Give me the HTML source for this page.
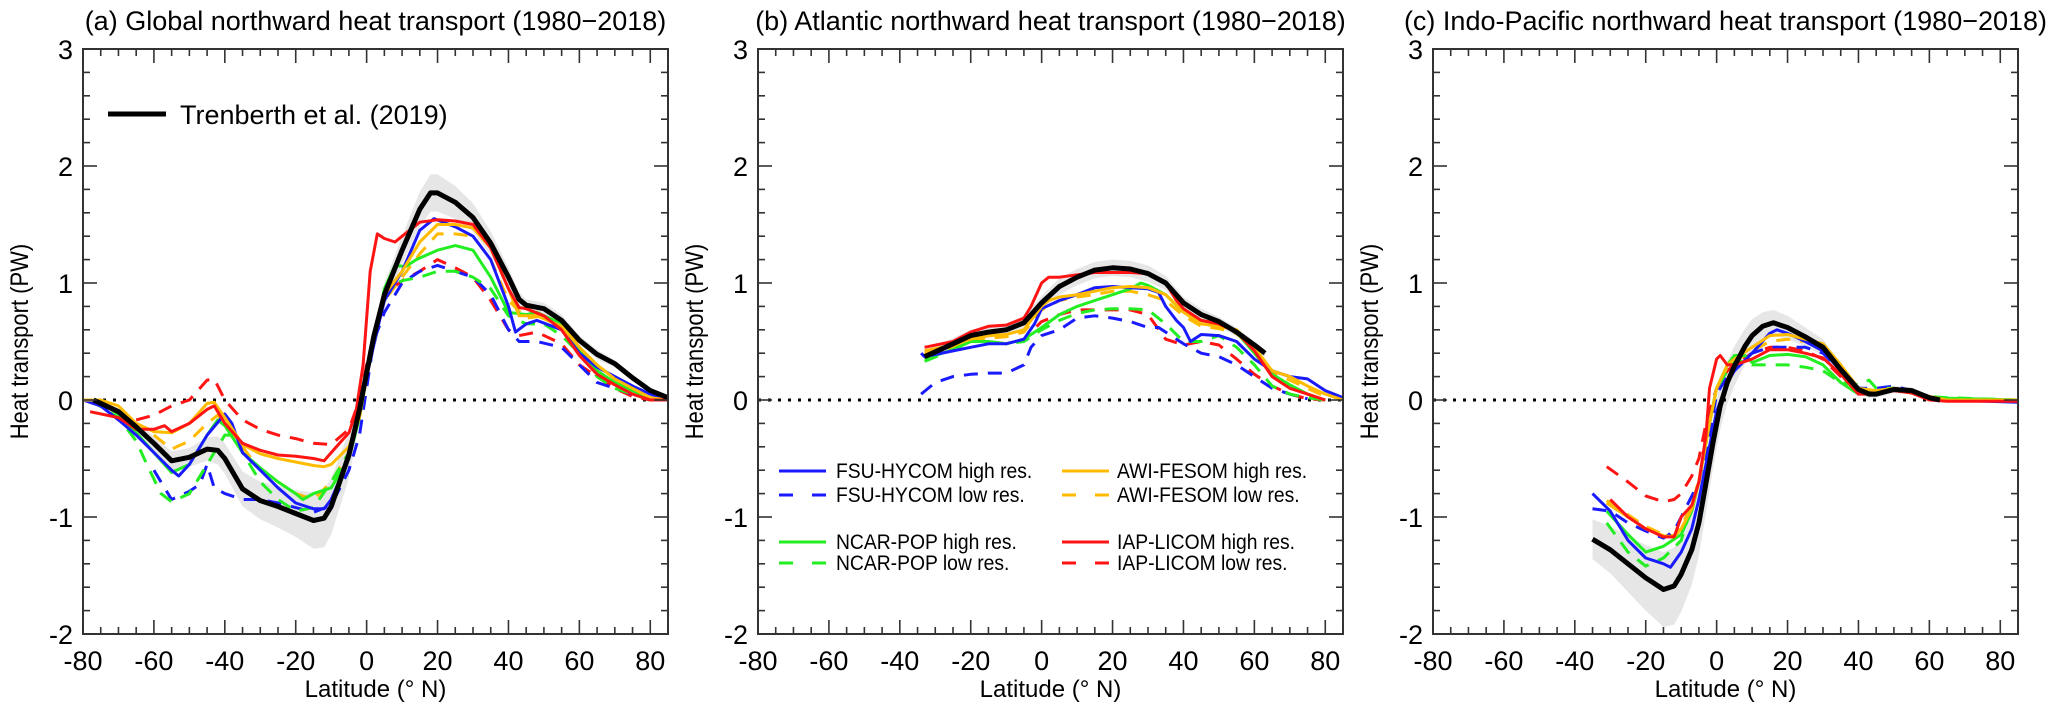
<!DOCTYPE html>
<html><head><meta charset="utf-8">
<style>
html,body{margin:0;padding:0;background:#fff;}
svg{display:block;font-family:"Liberation Sans",Arial,sans-serif;}
</style></head>
<body>
<svg id="fig" width="2067" height="713" viewBox="0 0 2067 713" xmlns="http://www.w3.org/2000/svg"></svg>
<script>
// ---------- data ----------
const xTicks = [-80,-60,-40,-20,0,20,40,60,80];
const yTicks = [-2,-1,0,1,2,3];
const panelTitles = ["(a) Global northward heat transport (1980\u22122018)","(b) Atlantic northward heat transport (1980\u22122018)","(c) Indo-Pacific northward heat transport (1980\u22122018)"];

// Panel a (Global)
const aObsLat = [-77,-70,-65,-60,-55,-50,-45,-42,-40,-35,-30,-25,-20,-15,-12,-10,-5,-2,0,2,5,10,15,18,20,25,30,35,40,43,45,50,55,60,65,70,75,80,85];
const aObsVal = [0,-0.1,-0.23,-0.37,-0.52,-0.49,-0.42,-0.43,-0.5,-0.76,-0.86,-0.91,-0.97,-1.03,-1.01,-0.91,-0.47,-0.08,0.23,0.54,0.9,1.28,1.63,1.77,1.77,1.69,1.56,1.34,1.05,0.86,0.81,0.78,0.68,0.51,0.39,0.31,0.19,0.08,0.02];
const aObsErr = [0.02,0.03,0.05,0.06,0.08,0.08,0.1,0.12,0.13,0.15,0.16,0.18,0.2,0.24,0.25,0.24,0.2,0.1,0.08,0.08,0.1,0.12,0.15,0.16,0.16,0.14,0.12,0.1,0.08,0.06,0.05,0.05,0.05,0.04,0.04,0.03,0.03,0.02,0.02];

const aRedHiLat = [-78,-70,-65,-60,-57,-55,-50,-45,-43,-40,-35,-30,-25,-20,-15,-12,-10,-5,-3,-1,1,3,5,8,10,15,20,25,30,35,40,43,45,50,55,60,65,70,75,80,85];
const aRedHiVal = [-0.1,-0.15,-0.25,-0.25,-0.22,-0.27,-0.2,-0.08,-0.05,-0.2,-0.37,-0.43,-0.47,-0.48,-0.5,-0.52,-0.45,-0.28,-0.1,0.3,1.1,1.42,1.38,1.35,1.4,1.52,1.54,1.53,1.5,1.3,0.95,0.79,0.78,0.72,0.6,0.38,0.22,0.13,0.05,0,0];
const aRedLoLat = [-65,-60,-55,-50,-45,-43,-40,-35,-30,-25,-20,-15,-10,-5,-2,0,2,5,10,15,20,25,30,35,40,43,48,55,60,65,70,75,80];
const aRedLoVal = [-0.17,-0.13,-0.05,0,0.17,0.18,0,-0.17,-0.25,-0.3,-0.33,-0.37,-0.38,-0.25,0,0.3,0.55,0.9,1.02,1.1,1.2,1.13,1.05,0.85,0.6,0.55,0.58,0.48,0.3,0.2,0.1,0.03,0];
const aOrgHiLat = [-80,-75,-70,-65,-60,-55,-50,-45,-43,-40,-35,-30,-25,-20,-15,-12,-10,-5,-2,0,2,5,10,15,20,25,30,35,40,43,48,55,60,65,70,75,80,85];
const aOrgHiVal = [0,0,-0.05,-0.2,-0.27,-0.28,-0.2,-0.03,-0.02,-0.15,-0.38,-0.46,-0.5,-0.53,-0.56,-0.57,-0.55,-0.4,-0.15,0.2,0.55,0.9,1.1,1.35,1.5,1.5,1.47,1.3,0.95,0.72,0.72,0.63,0.45,0.3,0.18,0.1,0.02,0];
const aOrgLoLat = [-60,-55,-50,-45,-42,-40,-35,-30,-25,-20,-15,-10,-5,0,5,10,15,20,25,30,35,40,45,50,55,60,65,70,75,80];
const aOrgLoVal = [-0.3,-0.42,-0.35,-0.2,-0.13,-0.2,-0.4,-0.6,-0.7,-0.8,-0.85,-0.7,-0.45,0.2,0.85,1.05,1.25,1.42,1.42,1.4,1.2,0.85,0.7,0.72,0.65,0.45,0.3,0.18,0.08,0];
const aBluHiLat = [-80,-75,-70,-65,-60,-55,-53,-50,-45,-40,-38,-35,-30,-25,-20,-15,-12,-10,-5,-2,0,3,5,10,15,19,25,30,35,40,42,45,48,55,60,65,70,75,80,85];
const aBluHiVal = [0,-0.05,-0.17,-0.3,-0.45,-0.6,-0.65,-0.55,-0.3,-0.12,-0.2,-0.45,-0.6,-0.75,-0.88,-0.93,-0.93,-0.85,-0.5,-0.1,0.2,0.6,0.85,1.1,1.45,1.55,1.48,1.4,1.2,0.8,0.58,0.65,0.68,0.6,0.4,0.28,0.2,0.12,0.05,0];
const aBluLoLat = [-60,-57,-55,-50,-47,-45,-43,-40,-35,-30,-25,-20,-15,-10,-5,-2,0,2,5,10,15,20,25,30,35,40,43,48,55,60,65,70,75,80];
const aBluLoVal = [-0.6,-0.75,-0.85,-0.78,-0.72,-0.55,-0.75,-0.8,-0.85,-0.85,-0.88,-0.92,-0.96,-0.9,-0.6,-0.3,0.1,0.5,0.75,1.0,1.1,1.15,1.1,1.05,0.9,0.6,0.5,0.5,0.45,0.3,0.15,0.1,0.05,0];
const aGrnHiLat = [-80,-75,-70,-65,-60,-55,-50,-45,-42,-40,-35,-30,-25,-20,-18,-15,-10,-5,-2,0,3,5,8,11,14,20,25,30,35,40,45,48,55,60,65,70,75,80];
const aGrnHiVal = [0,-0.02,-0.12,-0.28,-0.45,-0.62,-0.55,-0.3,-0.17,-0.22,-0.45,-0.58,-0.7,-0.8,-0.85,-0.8,-0.75,-0.5,-0.15,0.2,0.65,0.95,1.15,1.14,1.2,1.28,1.32,1.28,1.05,0.75,0.73,0.75,0.65,0.42,0.25,0.15,0.08,0];
const aGrnLoLat = [-78,-70,-65,-62,-58,-55,-50,-45,-40,-37,-35,-30,-25,-20,-15,-10,-5,-2,0,3,5,10,15,20,25,30,35,40,45,50,55,60,65,70,75,80];
const aGrnLoVal = [0,-0.15,-0.35,-0.55,-0.8,-0.87,-0.8,-0.55,-0.3,-0.3,-0.45,-0.7,-0.85,-0.95,-0.92,-0.7,-0.45,-0.15,0.2,0.6,0.95,1.02,1.05,1.1,1.1,1.05,0.95,0.72,0.65,0.65,0.55,0.4,0.2,0.1,0.05,0];

// Panel b (Atlantic)
const bObsLat = [-33,-25,-20,-15,-10,-5,0,5,10,15,20,25,30,35,40,45,50,55,60,63];
const bObsVal = [0.37,0.48,0.55,0.58,0.6,0.66,0.83,0.97,1.05,1.11,1.13,1.12,1.08,1.0,0.83,0.73,0.67,0.58,0.47,0.4];
const bObsErr = [0.05,0.05,0.05,0.05,0.05,0.06,0.06,0.07,0.07,0.07,0.07,0.07,0.07,0.06,0.05,0.05,0.04,0.04,0.03,0.03];
const bRedHiLat = [-33,-25,-20,-15,-10,-5,-3,0,2,5,10,15,20,25,30,35,38,40,45,50,55,60,65,70,75,80];
const bRedHiVal = [0.45,0.5,0.58,0.63,0.64,0.7,0.8,1.0,1.05,1.05,1.07,1.09,1.09,1.09,1.08,1.0,0.85,0.78,0.68,0.65,0.58,0.42,0.2,0.1,0.05,0];
const bRedLoLat = [-33,-25,-20,-15,-10,-5,0,5,10,15,20,25,30,35,40,45,50,55,60,65,70,75,80];
const bRedLoVal = [0.4,0.43,0.5,0.5,0.48,0.52,0.67,0.73,0.77,0.77,0.77,0.77,0.73,0.52,0.47,0.5,0.47,0.35,0.22,0.12,0.05,0.01,0];
const bOrgHiLat = [-33,-25,-20,-15,-10,-5,0,2,5,10,15,20,25,30,35,40,45,50,55,60,65,70,75,80,85];
const bOrgHiVal = [0.42,0.47,0.52,0.55,0.56,0.6,0.8,0.85,0.88,0.9,0.93,0.96,0.97,0.96,0.9,0.75,0.65,0.63,0.6,0.45,0.25,0.2,0.12,0.05,0];
const bOrgLoLat = [-33,-25,-20,-15,-10,-5,0,5,10,15,20,25,30,35,40,45,50,55,60,65,70,75,80];
const bOrgLoVal = [0.4,0.45,0.5,0.53,0.54,0.58,0.77,0.85,0.88,0.9,0.93,0.93,0.9,0.85,0.72,0.63,0.61,0.57,0.42,0.23,0.17,0.1,0.03];
const bBluHiLat = [-34,-33,-25,-20,-15,-10,-5,-2,0,5,10,15,20,25,30,33,35,38,40,42,45,50,55,60,65,70,75,80,85];
const bBluHiVal = [0.4,0.37,0.42,0.45,0.48,0.48,0.52,0.65,0.78,0.85,0.9,0.96,0.97,0.96,0.95,0.92,0.8,0.68,0.62,0.5,0.56,0.55,0.5,0.35,0.25,0.2,0.18,0.08,0.02];
const bBluLoLat = [-34,-30,-25,-20,-15,-10,-5,-3,0,5,10,15,20,25,30,33,35,40,45,50,55,60,65,70,75];
const bBluLoVal = [0.05,0.15,0.2,0.22,0.23,0.23,0.3,0.45,0.55,0.6,0.7,0.72,0.7,0.67,0.62,0.62,0.58,0.48,0.4,0.37,0.3,0.2,0.1,0.05,0.01];
const bGrnHiLat = [-33,-25,-20,-15,-10,-5,0,5,10,15,20,25,28,30,35,40,45,50,55,60,65,70,75,80];
const bGrnHiVal = [0.35,0.43,0.5,0.5,0.48,0.52,0.62,0.73,0.8,0.85,0.9,0.95,1.0,0.98,0.9,0.75,0.68,0.65,0.58,0.4,0.22,0.13,0.05,0];
const bGrnLoLat = [-33,-25,-20,-15,-10,-5,0,5,10,15,20,25,30,35,40,45,50,55,60,65,70,75,80];
const bGrnLoVal = [0.33,0.43,0.5,0.5,0.48,0.5,0.6,0.68,0.74,0.77,0.78,0.78,0.77,0.65,0.5,0.5,0.55,0.45,0.3,0.12,0.05,0.02,0];

// Panel c (Indo-Pacific)
const cObsLat = [-35,-30,-25,-20,-15,-12,-10,-7,-5,-3,-1,1,3,5,8,10,13,16,20,25,30,35,40,43,45,50,55,60,63];
const cObsVal = [-1.19,-1.28,-1.4,-1.52,-1.62,-1.59,-1.49,-1.28,-1.05,-0.71,-0.36,-0.05,0.15,0.29,0.46,0.55,0.63,0.66,0.62,0.54,0.45,0.26,0.09,0.05,0.05,0.09,0.08,0.02,0];
const cObsErr = [0.17,0.2,0.24,0.28,0.32,0.33,0.32,0.3,0.28,0.25,0.22,0.2,0.18,0.17,0.15,0.14,0.12,0.11,0.1,0.08,0.07,0.05,0.04,0.03,0.03,0.03,0.03,0.02,0.02];
const cRedHiLat = [-30,-25,-20,-15,-12,-10,-7,-5,-3,-2,0,1,3,5,10,15,20,25,30,35,40,45,50,55,60,65,85];
const cRedHiVal = [-0.85,-1.0,-1.1,-1.17,-1.17,-1.0,-0.9,-0.7,-0.3,0.1,0.35,0.38,0.3,0.3,0.35,0.43,0.43,0.4,0.36,0.22,0.05,0.05,0.08,0.06,0,-0.01,-0.01];
const cRedLoLat = [-31,-25,-20,-15,-12,-10,-7,-5,-3,0,3,5,10,15,20,25,30,35,40,45,50,55,60];
const cRedLoVal = [-0.57,-0.7,-0.82,-0.87,-0.85,-0.8,-0.65,-0.5,-0.2,0.1,0.25,0.3,0.4,0.45,0.45,0.42,0.35,0.2,0.07,0.07,0.1,0.07,0.02];
const cOrgHiLat = [-31,-25,-20,-15,-12,-10,-7,-5,-2,0,3,5,10,15,20,25,30,35,40,45,50,55,60,65,85];
const cOrgHiVal = [-0.88,-1.0,-1.1,-1.16,-1.17,-1.1,-0.93,-0.7,-0.2,0.1,0.3,0.35,0.45,0.55,0.56,0.52,0.48,0.3,0.1,0.08,0.1,0.08,0.03,0,0];
const cOrgLoLat = [-31,-25,-20,-15,-12,-10,-7,-5,-2,0,3,5,10,15,20,25,30,35,40,45,50,55,60];
const cOrgLoVal = [-0.86,-0.98,-1.08,-1.15,-1.16,-1.08,-0.9,-0.68,-0.2,0.1,0.28,0.33,0.42,0.5,0.52,0.5,0.45,0.28,0.1,0.08,0.1,0.08,0.03];
const cBluHiLat = [-35,-30,-25,-20,-15,-13,-10,-7,-5,-2,0,3,5,10,15,17,20,25,30,35,40,45,50,55,60,65,85];
const cBluHiVal = [-0.8,-0.95,-1.2,-1.35,-1.4,-1.43,-1.3,-1.1,-0.85,-0.4,-0.1,0.15,0.25,0.4,0.57,0.6,0.57,0.5,0.42,0.25,0.05,0.07,0.1,0.08,0.02,0,-0.02];
const cBluLoLat = [-35,-30,-25,-20,-15,-12,-10,-5,-2,0,5,10,15,20,25,30,35,40,45,50,55,60];
const cBluLoVal = [-0.93,-0.95,-1.05,-1.12,-1.18,-1.12,-1.0,-0.7,-0.3,0.05,0.3,0.4,0.45,0.45,0.45,0.4,0.25,0.1,0.1,0.12,0.08,0.02];
const cGrnHiLat = [-31,-25,-20,-15,-10,-7,-5,-2,0,3,5,8,10,15,20,25,30,35,40,45,50,55,60,85];
const cGrnHiVal = [-0.95,-1.15,-1.3,-1.25,-1.15,-0.95,-0.7,-0.2,0.1,0.3,0.38,0.38,0.32,0.38,0.39,0.37,0.3,0.15,0.05,0.08,0.1,0.06,0.02,0];
const cGrnLoLat = [-31,-25,-20,-15,-10,-5,-2,0,5,10,15,20,25,30,35,40,43,45,50,55,60,65,85];
const cGrnLoVal = [-1.05,-1.3,-1.42,-1.35,-1.2,-0.7,-0.2,0.1,0.35,0.3,0.3,0.3,0.28,0.25,0.15,0.13,0.17,0.1,0.1,0.06,0.03,0.02,0];

// ---------- drawing ----------
const NS = "http://www.w3.org/2000/svg";
const svg = document.getElementById("fig");
const panelLefts = [83, 758, 1433];
const PW = 585, TOP = 49, BOT = 634;
const XMIN = -80, XMAX = 85, YMIN = -2, YMAX = 3;
const COL = {blue:"#1a1aff", green:"#22ee22", red:"#ff1414", orange:"#ffbb00"};

function mk(tag, attrs, parent){
  const e = document.createElementNS(NS, tag);
  for (const k in attrs) e.setAttribute(k, attrs[k]);
  (parent||svg).appendChild(e);
  return e;
}
function xs(left){ return v => left + (v - XMIN) / (XMAX - XMIN) * PW; }
function ys(v){ return BOT - (v - YMIN) / (YMAX - YMIN) * (BOT - TOP); }

function drawLine(g, sx, lats, vals, color, dashed, name, w){
  const pts = lats.map((la,i)=> sx(la).toFixed(1)+","+ys(vals[i]).toFixed(1)).join(" ");
  const p = mk("polyline", {points:pts, fill:"none", stroke:color, "stroke-width":w||3, "stroke-linejoin":"round", "stroke-linecap":"butt"}, g);
  if (dashed) p.setAttribute("stroke-dasharray","14 10");
  
  
}
function drawBand(g, sx, lats, vals, errs, name){
  const up = lats.map((la,i)=> sx(la).toFixed(1)+","+ys(vals[i]+errs[i]).toFixed(1));
  const dn = lats.map((la,i)=> sx(la).toFixed(1)+","+ys(vals[i]-errs[i]).toFixed(1)).reverse();
  const p = mk("polygon", {points:up.concat(dn).join(" "), fill:"#e6e6e6", stroke:"none"}, g);
  
  
}

const panels = [
  {key:"global", obs:[aObsLat,aObsVal,aObsErr], series:[
    [aRedLoLat,aRedLoVal,COL.red,true,"iap-licom-low"],[aOrgLoLat,aOrgLoVal,COL.orange,true,"awi-fesom-low"],
    [aBluLoLat,aBluLoVal,COL.blue,true,"fsu-hycom-low"],[aGrnLoLat,aGrnLoVal,COL.green,true,"ncar-pop-low"],
    [aGrnHiLat,aGrnHiVal,COL.green,false,"ncar-pop-high"],[aBluHiLat,aBluHiVal,COL.blue,false,"fsu-hycom-high"],
    [aOrgHiLat,aOrgHiVal,COL.orange,false,"awi-fesom-high"],[aRedHiLat,aRedHiVal,COL.red,false,"iap-licom-high"]]},
  {key:"atlantic", obs:[bObsLat,bObsVal,bObsErr], series:[
    [bRedLoLat,bRedLoVal,COL.red,true,"iap-licom-low"],[bOrgLoLat,bOrgLoVal,COL.orange,true,"awi-fesom-low"],
    [bBluLoLat,bBluLoVal,COL.blue,true,"fsu-hycom-low"],[bGrnLoLat,bGrnLoVal,COL.green,true,"ncar-pop-low"],
    [bGrnHiLat,bGrnHiVal,COL.green,false,"ncar-pop-high"],[bBluHiLat,bBluHiVal,COL.blue,false,"fsu-hycom-high"],
    [bOrgHiLat,bOrgHiVal,COL.orange,false,"awi-fesom-high"],[bRedHiLat,bRedHiVal,COL.red,false,"iap-licom-high"]]},
  {key:"indo-pacific", obs:[cObsLat,cObsVal,cObsErr], series:[
    [cRedLoLat,cRedLoVal,COL.red,true,"iap-licom-low"],[cOrgLoLat,cOrgLoVal,COL.orange,true,"awi-fesom-low"],
    [cBluLoLat,cBluLoVal,COL.blue,true,"fsu-hycom-low"],[cGrnLoLat,cGrnLoVal,COL.green,true,"ncar-pop-low"],
    [cGrnHiLat,cGrnHiVal,COL.green,false,"ncar-pop-high"],[cBluHiLat,cBluHiVal,COL.blue,false,"fsu-hycom-high"],
    [cOrgHiLat,cOrgHiVal,COL.orange,false,"awi-fesom-high"],[cRedHiLat,cRedHiVal,COL.red,false,"iap-licom-high"]]}
];

panels.forEach((pn, pi) => {
  const L = panelLefts[pi], R = L + PW, sx = xs(L);
  const g = mk("g", {});
  
  

  const t = mk("text", {x:(L+R)/2, y:30, "text-anchor":"middle", "font-size":27, fill:"#000"}, g);
  t.textContent = panelTitles[pi];
  
  

  drawBand(g, sx, pn.obs[0], pn.obs[1], pn.obs[2], 'obs-uncertainty-band');

  const z = mk("line", {x1:L, x2:R, y1:ys(0), y2:ys(0), stroke:"#000", "stroke-width":3, "stroke-dasharray":"3 7"}, g);
  
  

  pn.series.forEach(s => drawLine(g, sx, s[0], s[1], s[2], s[3], s[4]));
  drawLine(g, sx, pn.obs[0], pn.obs[1], "#000", false, "trenberth-2019-line", 5);

  const fr = mk("rect", {x:L, y:TOP, width:PW, height:BOT-TOP, fill:"none", stroke:"#333", "stroke-width":2}, g);
  
  

  const tk = mk("g", {stroke:"#333", "stroke-width":1.6}, g);
  
  
  for (let v = -80; v <= 85; v += 5) {
    const len = (v % 20 === 0) ? 14 : 7, X = sx(v);
    mk("line", {x1:X, x2:X, y1:BOT, y2:BOT-len}, tk);
    mk("line", {x1:X, x2:X, y1:TOP, y2:TOP+len}, tk);
  }
  for (let k = -10; k <= 15; k++) {
    const v = k/5, len = (k % 5 === 0) ? 14 : 7, Y = ys(v);
    mk("line", {x1:L, x2:L+len, y1:Y, y2:Y}, tk);
    mk("line", {x1:R, x2:R-len, y1:Y, y2:Y}, tk);
  }
  xTicks.forEach(v => {
    const e = mk("text", {x:sx(v), y:BOT+36, "text-anchor":"middle", "font-size":27}, g);
    e.textContent = v;
    
    
  });
  yTicks.forEach(v => {
    const e = mk("text", {x:L-10, y:ys(v)+10, "text-anchor":"end", "font-size":27}, g);
    e.textContent = v;
    
    
  });
  const xl = mk("text", {x:(L+R)/2, y:BOT+63, "text-anchor":"middle", "font-size":24}, g);
  xl.textContent = "Latitude (\u00B0 N)";
  
  
  const yl = mk("text", {x:0, y:0, "text-anchor":"middle", "font-size":25, transform:"translate("+(L-55)+","+((TOP+BOT)/2)+") rotate(-90) scale(0.88,1)"}, g);
  yl.textContent = "Heat transport (PW)";
  
  
});

// Legend panel a
const lg = mk("g", {});


mk("line", {x1:108, x2:166, y1:114, y2:114, stroke:"#000", "stroke-width":5}, lg);
const lt = mk("text", {x:180, y:124, "font-size":27}, lg);
lt.textContent = "Trenberth et al. (2019)";

// Legend panel b
const legendNames = ["FSU-HYCOM high res.","FSU-HYCOM low res.","NCAR-POP high res.","NCAR-POP low res.","AWI-FESOM high res.","AWI-FESOM low res.","IAP-LICOM high res.","IAP-LICOM low res."];
const legendColors = [COL.blue,COL.blue,COL.green,COL.green,COL.orange,COL.orange,COL.red,COL.red];
const legendRowsY = [471,495,542,563];
const lg2 = mk("g", {});


legendNames.forEach((nm, i) => {
  const col = Math.floor(i/4), row = i % 4;
  const lx = col ? 1062 : 779, tx = col ? 1117 : 836, y = legendRowsY[row];
  const ent = mk("g", {}, lg2);
  
  
  const ln = mk("line", {x1:lx, x2:lx+47, y1:y, y2:y, stroke:legendColors[i], "stroke-width":3}, ent);
  if (i % 2 === 1) ln.setAttribute("stroke-dasharray","14 19");
  const tx1 = mk("text", {x:tx, y:y+7, "font-size":21, transform:"translate("+tx+",0) scale(0.92,1) translate("+(-tx)+",0)"}, ent);
  tx1.textContent = nm;
});
</script>
</body></html>
